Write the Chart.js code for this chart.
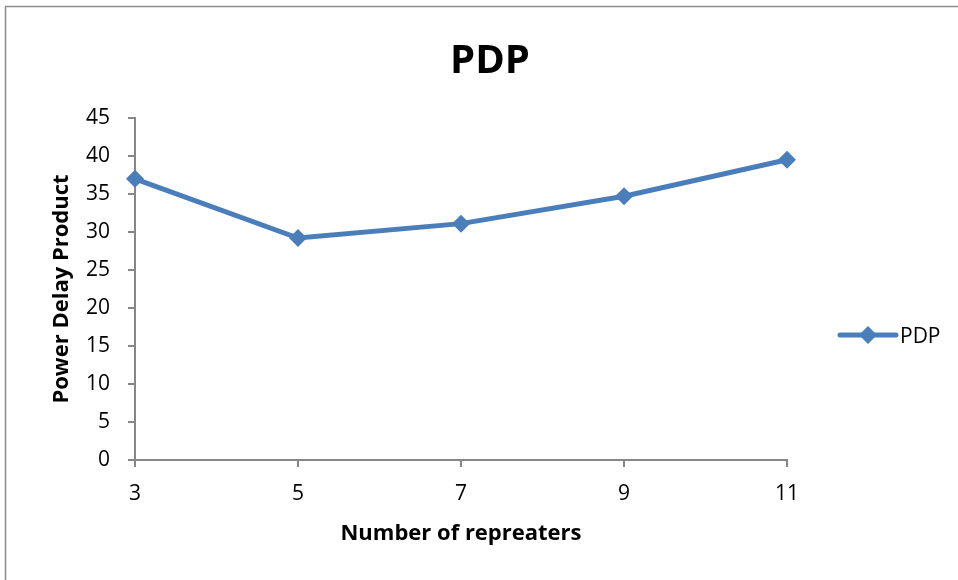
<!DOCTYPE html>
<html>
<head>
<meta charset="utf-8">
<script src="https://cdn.jsdelivr.net/npm/chart.js@4.4.1/dist/chart.umd.min.js"></script>
<style>
  html, body { margin: 0; padding: 0; background: #ffffff; }
  #wrap { position: relative; width: 958px; height: 580px; }
</style>
</head>
<body>
<div id="wrap"><canvas id="chart" width="958" height="580"></canvas></div>
<script>
// Power-delay product versus repeater count
const repeaters = ['3', '5', '7', '9', '11'];
const pdpValues = [37.0, 29.2, 31.1, 34.7, 39.5];
const seriesName = 'PDP';
const chartTitle = 'PDP';
const xTitle = 'Number of repreaters';
const yTitle = 'Power Delay Product';

const FONT = "'Open Sans', 'DejaVu Sans', sans-serif";
const BLUE = '#4A7EBB';
const AXIS_GREY = '#878787';

// Outer frame of the chart object plus the centred chart title
const framePlugin = {
  id: 'frame',
  beforeDraw(chart) {
    const ctx = chart.ctx;
    ctx.save();
    ctx.fillStyle = '#ffffff';
    ctx.fillRect(0, 0, chart.width, chart.height);
    ctx.strokeStyle = '#8c8c8c';
    ctx.lineWidth = 1.5;
    ctx.beginPath();
    ctx.moveTo(5.5, chart.height);
    ctx.lineTo(5.5, 6.5);
    ctx.lineTo(chart.width, 6.5);
    ctx.stroke();
    ctx.fillStyle = '#000000';
    ctx.font = 'bold 40px ' + FONT;
    ctx.textAlign = 'center';
    ctx.textBaseline = 'middle';
    ctx.fillText(chartTitle, 490, 62);
    ctx.restore();
  }
};

// Legend entry on the right: line with a diamond marker, then the series name
const sideLegend = {
  id: 'sideLegend',
  afterDraw(chart) {
    const ctx = chart.ctx;
    const ds = chart.data.datasets[0];
    const x0 = chart.chartArea.right + 53;
    const y = 335;
    ctx.save();
    ctx.strokeStyle = ds.borderColor;
    ctx.lineWidth = 5;
    ctx.lineCap = 'round';
    ctx.beginPath();
    ctx.moveTo(x0, y);
    ctx.lineTo(x0 + 56, y);
    ctx.stroke();
    const cx = x0 + 28, r = 9;
    ctx.fillStyle = ds.pointBackgroundColor;
    ctx.beginPath();
    ctx.moveTo(cx, y - r);
    ctx.lineTo(cx + r, y);
    ctx.lineTo(cx, y + r);
    ctx.lineTo(cx - r, y);
    ctx.closePath();
    ctx.fill();
    ctx.fillStyle = '#000000';
    ctx.font = '21px ' + FONT;
    ctx.textBaseline = 'middle';
    ctx.textAlign = 'left';
    ctx.fillText(ds.label, x0 + 60, y + 2);
    ctx.restore();
  }
};

new Chart(document.getElementById('chart'), {
  type: 'line',
  data: {
    labels: repeaters,
    datasets: [{
      label: seriesName,
      data: pdpValues,
      borderColor: BLUE,
      backgroundColor: BLUE,
      pointBackgroundColor: BLUE,
      pointBorderColor: BLUE,
      borderWidth: 5,
      pointStyle: 'rectRot',
      pointRadius: 9,
      pointBorderWidth: 0,
      tension: 0,
      fill: false
    }]
  },
  options: {
    responsive: false,
    animation: false,
    devicePixelRatio: 1,
    layout: { padding: { left: 0, right: 171, top: 118, bottom: 0 } },
    plugins: {
      legend: { display: false },
      tooltip: { enabled: false },
      title: { display: false }
    },
    scales: {
      x: {
        offset: false,
        afterFit(scale) { scale.height = 120; },
        grid: {
          drawOnChartArea: false,
          drawTicks: true,
          tickLength: 7,
          color: AXIS_GREY,
          lineWidth: 2
        },
        border: { display: true, color: AXIS_GREY, width: 2 },
        ticks: {
          color: '#000000',
          font: { family: FONT, size: 21 },
          padding: 14,
          maxRotation: 0
        },
        title: {
          display: true,
          text: xTitle,
          color: '#000000',
          font: { family: FONT, size: 22, weight: 'bold' },
          padding: { top: 0, bottom: 33 }
        }
      },
      y: {
        min: 0,
        max: 45,
        afterFit(scale) { scale.width = 135; },
        grid: {
          drawOnChartArea: false,
          drawTicks: true,
          tickLength: 7,
          color: AXIS_GREY,
          lineWidth: 2
        },
        border: { display: true, color: AXIS_GREY, width: 2 },
        ticks: {
          stepSize: 5,
          color: '#000000',
          font: { family: FONT, size: 21 },
          padding: 18
        },
        title: {
          display: true,
          text: yTitle,
          color: '#000000',
          font: { family: FONT, size: 22, weight: 'bold' },
          padding: { top: 49, bottom: 0 }
        }
      }
    }
  },
  plugins: [framePlugin, sideLegend]
});
</script>
</body>
</html>
